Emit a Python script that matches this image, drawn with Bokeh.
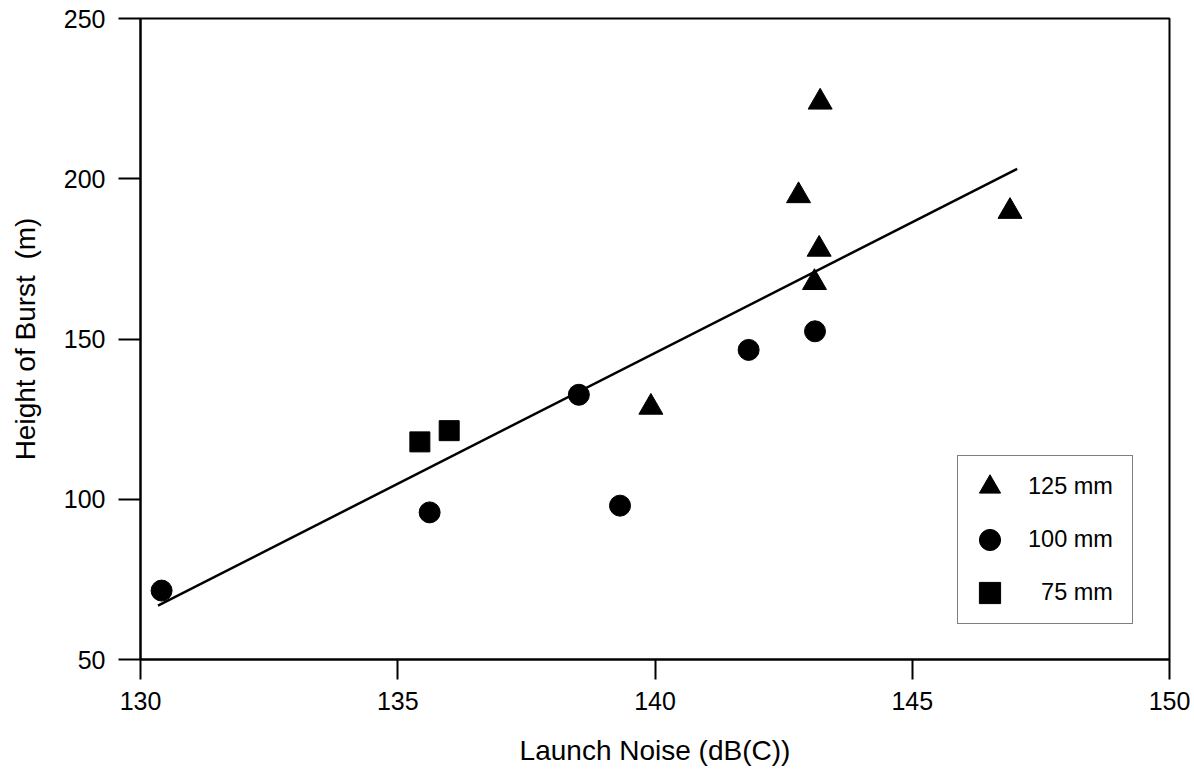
from bokeh.plotting import figure
from bokeh.models import Range1d, FixedTicker, Legend, LegendItem
from bokeh.embed import file_html
from bokeh.resources import INLINE

# ---- data ----
x_125 = [143.21, 142.79, 143.19, 143.10, 146.90, 139.92]
y_125 = [223.9, 194.7, 178.0, 167.6, 189.8, 128.7]
x_100 = [130.41, 135.62, 138.52, 139.32, 141.82, 143.11]
y_100 = [71.5, 95.9, 132.6, 98.0, 146.6, 152.4]
x_75 = [135.43, 136.00]
y_75 = [117.9, 121.4]
fit_x = [130.34, 147.04]
fit_y = [66.8, 203.1]
x_ticks = [130, 135, 140, 145, 150]
y_ticks = [50, 100, 150, 200, 250]
labels = ["125 mm", "100 mm", "\u200775 mm"]

FONT = "Liberation Sans"

p = figure(width=1194, height=769, output_backend="svg", toolbar_location=None,
           x_range=Range1d(130, 150), y_range=Range1d(50, 250),
           min_border_left=140, min_border_right=25, min_border_top=18, min_border_bottom=110)

p.grid.visible = False
p.background_fill_color = "white"
p.border_fill_color = "white"
p.outline_line_color = "black"
p.outline_line_width = 2

for ax in (p.xaxis[0], p.yaxis[0]):
    ax.axis_line_width = 2
    ax.axis_line_color = "black"
    ax.major_tick_line_width = 2
    ax.major_tick_line_color = "black"
    ax.major_tick_in = 0
    ax.minor_tick_line_color = None
    ax.major_label_text_font = FONT
    ax.major_label_text_font_size = "25px"
    ax.major_label_text_color = "black"
    ax.axis_label_text_font = FONT
    ax.axis_label_text_font_size = "28px"
    ax.axis_label_text_font_style = "normal"
    ax.axis_label_text_color = "black"

p.xaxis.ticker = FixedTicker(ticks=x_ticks)
p.yaxis.ticker = FixedTicker(ticks=y_ticks)
p.xaxis.major_tick_out = 20
p.yaxis.major_tick_out = 22
p.xaxis.major_label_standoff = 12
p.yaxis.major_label_standoff = 13
p.xaxis.axis_label = "Launch Noise (dB(C))"
p.yaxis.axis_label = "Height of Burst\u00a0 (m)"
p.xaxis.axis_label_standoff = 22
p.yaxis.axis_label_standoff = 20

p.line(fit_x, fit_y, line_color="black", line_width=2.5)

r125 = p.scatter(x_125, y_125, marker="triangle", size=24, fill_color="black", line_color="black")
r100 = p.scatter(x_100, y_100, marker="circle", size=21, fill_color="black", line_color="black")
r75 = p.scatter(x_75, y_75, marker="square", size=20, fill_color="black", line_color="black")

legend = Legend(items=[LegendItem(label=labels[0], renderers=[r125]),
                       LegendItem(label=labels[1], renderers=[r100]),
                       LegendItem(label=labels[2], renderers=[r75])],
                location=(817, 35), margin=0, padding=4,
                glyph_width=55, glyph_height=53, spacing=0,
                label_standoff=11, label_width=100,
                label_text_font=FONT, label_text_font_size="23.5px",
                label_text_color="black",
                border_line_color="black", border_line_width=1.5,
                background_fill_color="white", background_fill_alpha=1.0)
p.add_layout(legend, "center")

open("out.html", "w").write(file_html(p, INLINE))
